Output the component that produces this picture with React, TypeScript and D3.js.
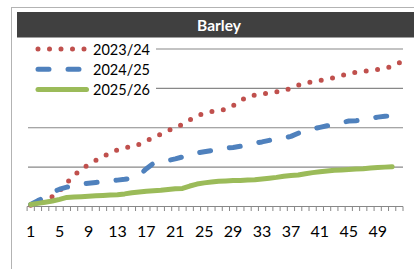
import React from 'react';
import * as d3 from 'd3';

// weekly cumulative values
const weeks = d3.range(1, 53);
const tickLabels = [1, 5, 9, 13, 17, 21, 25, 29, 33, 37, 41, 45, 49];
const gridValues = [100, 200, 300, 400];

const series2324 = [
  3, 8, 16, 25, 40, 60, 79, 94, 107, 117, 127, 136, 144, 149, 152, 158, 167, 175,
  184, 193, 200, 209, 220, 230, 237, 241, 243, 247, 256, 268, 279, 283, 286, 288,
  291, 295, 300, 308, 314, 317, 320, 324, 327, 332, 338, 341, 343, 345, 348, 351,
  356, 365,
];
const series2425 = [
  5, 15, 24, 36, 44, 49, 54, 57, 59, 61, 63, 65, 67, 69, 72, 80, 96, 110, 114, 117,
  121, 126, 131, 136, 139, 142, 144, 148, 150, 153, 157, 161, 164, 168, 172, 174,
  178, 186, 192, 197, 201, 205, 209, 213, 217, 218, 220, 223, 227, 229, 231,
];
const series2526 = [
  5, 8, 11, 14, 18, 23, 24, 25, 26, 27, 28, 29, 30, 32, 35, 37, 39, 40, 41, 43, 45,
  46, 52, 57, 60, 62, 64, 65, 66, 66, 67, 68, 70, 72, 74, 77, 79, 80, 83, 86, 88, 90,
  92, 93, 94, 95, 96, 98, 99, 100, 101,
];

const seriesList = [
  { name: '2023/24', values: series2324, color: '#C0504D', dash: '0 11.5' },
  { name: '2024/25', values: series2425, color: '#4F81BD', dash: '11 19' },
  { name: '2025/26', values: series2526, color: '#9BBB59', dash: null },
];

const font = 'Lato, "Open Sans", sans-serif';

export default function App() {
  const width = 414;
  const height = 269;

  const x = d3.scaleBand<number>().domain(weeks).range([27.1, 403]).padding(0);
  const y = d3.scaleLinear().domain([0, 400]).range([206.5, 49]);
  const cx = (w: number) => (x(w) ?? 0) + x.bandwidth() / 2;

  const line = d3
    .line<number>()
    .x((_, i) => cx(weeks[i]))
    .y((d) => y(d));

  const boundaries = d3.range(0, weeks.length + 1).map((i) => 27.1 + i * x.step());

  return (
    <div style={{ position: 'fixed', left: 0, top: 0 }}>
      <svg width={width} height={height} style={{ display: 'block', background: '#fff' }}>
        {/* outer chart frame (cut off at right/bottom) */}
        <rect x={11.5} y={7.5} width={420} height={280} fill="#fff" stroke="#b3b3b3" />

        {/* title bar */}
        <rect x={17} y={12} width={410} height={25.5} fill="#404040" />
        <text
          x={219}
          y={30.5}
          textAnchor="middle"
          fill="#fff"
          fontFamily={font}
          fontWeight="bold"
          fontSize={15.5}
        >
          Barley
        </text>

        {/* gridlines */}
        {gridValues.map((v) => (
          <line key={v} x1={28} x2={403} y1={y(v)} y2={y(v)} stroke="#888" strokeWidth={1.2} />
        ))}

        {/* x axis */}
        <line x1={27.1} x2={403} y1={y(0)} y2={y(0)} stroke="#888" strokeWidth={1.2} />
        {boundaries.map((bx, i) => (
          <line key={i} x1={bx} x2={bx} y1={y(0)} y2={y(0) + 4.5} stroke="#888" strokeWidth={1} />
        ))}
        {tickLabels.map((t) => (
          <text
            key={t}
            x={cx(t)}
            y={237}
            textAnchor="middle"
            fontFamily={font}
            fontSize={16}
            fill="#000"
          >
            {t}
          </text>
        ))}

        {/* series */}
        {seriesList.map((s) => (
          <path
            key={s.name}
            d={line(s.values) ?? ''}
            fill="none"
            stroke={s.color}
            strokeWidth={5}
            strokeLinecap="round"
            strokeLinejoin="round"
            strokeDasharray={s.dash ?? undefined}
          />
        ))}

        {/* legend */}
        <rect x={28} y={39} width={128} height={59} fill="#fff" />
        {seriesList.map((s, i) => {
          const ly = 49 + i * 20.2;
          return (
            <g key={s.name}>
              <line
                x1={38}
                x2={86.5}
                y1={ly}
                y2={ly}
                stroke={s.color}
                strokeWidth={5}
                strokeLinecap="round"
                strokeDasharray={s.dash ?? undefined}
              />
              <text x={93} y={ly + 5.5} fontFamily={font} fontSize={14.5} fill="#000">
                {s.name}
              </text>
            </g>
          );
        })}
      </svg>
    </div>
  );
}
